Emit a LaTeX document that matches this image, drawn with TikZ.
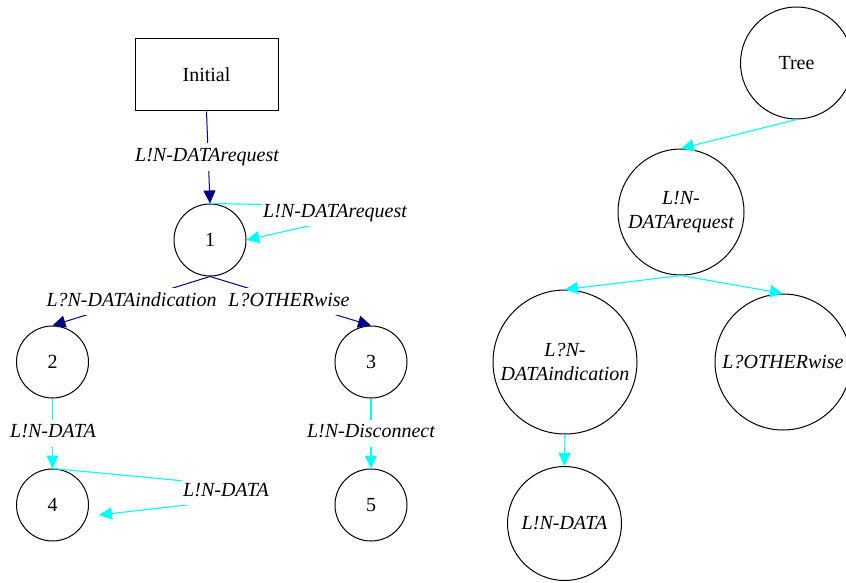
\documentclass[tikz,border=0pt]{standalone}
\usepackage{fontspec}
\setmainfont{Liberation Serif}
\newfontfamily\diagfont{Liberation Serif}
\usetikzlibrary{arrows.meta}
\definecolor{edgenavy}{RGB}{0,0,128}
\definecolor{edgecyan}{RGB}{0,255,255}
\begin{document}
\begin{tikzpicture}[x=1pt,y=-1pt,
  every node/.style={font=\diagfont\fontsize{20}{24.5}\selectfont},
  state/.style={draw=black, line width=1pt, circle, minimum size=72pt, inner sep=0pt},
  tnode/.style={draw=black, line width=1pt, circle, inner sep=0pt, align=center, font=\diagfont\fontsize{20}{24.5}\selectfont\itshape},
  lbl/.style={fill=white, inner xsep=1pt, inner ysep=4pt, text height=14pt, text depth=5pt, font=\diagfont\fontsize{20}{24.5}\selectfont\itshape},
  navyedge/.style={draw=edgenavy, line width=1pt, -{Triangle[length=13pt,width=12pt]}},
  cyanedge/.style={draw=edgecyan, line width=1.1pt, -{Triangle[length=13pt,width=12pt]}},
]
\useasboundingbox (0,0) rectangle (846,583);
\clip (0,0) rectangle (846,583);

% left state machine
\node[draw=black, line width=1pt, minimum width=143pt, minimum height=72pt] (init) at (206.5,75) {Initial};
\node[state] (n1) at (210,240) {1};
\node[state] (n2) at (52.5,362) {2};
\node[state] (n3) at (371,362) {3};
\node[state] (n4) at (52.5,505) {4};
\node[state] (n5) at (371,505) {5};

\draw[navyedge] (init.south) -- (n1.north);
\node[lbl] (l1) at (207,157) {L!N-DATArequest};

\coordinate (s1a) at (265,204.5);
\coordinate (s1b) at (313,225);
\draw[cyanedge] (n1.north) -- (s1a) -- (s1b) -- (n1.east);
\node[lbl] (l2) at (335,212.7) {L!N-DATArequest};

\draw[navyedge] (n1.south) -- (n2.north);
\node[lbl] (l3) at (131.5,301.7) {L?N-DATAindication};
\draw[navyedge] (n1.south) -- (n3.north);
\node[lbl] (l4) at (289,301.7) {L?OTHERwise};

\draw[cyanedge] (n2.south) -- (n4.north);
\node[lbl] (l5) at (53,433.3) {L!N-DATA};
\draw[cyanedge] (n3.south) -- (n5.north);
\node[lbl] (l6) at (371,433) {L!N-Disconnect};

\coordinate (s4a) at (185,481);
\coordinate (s4b) at (195,504);
\draw[cyanedge] (n4.north) -- (s4a) -- (s4b) -- ([xshift=10pt,yshift=-10pt]n4.east);
\node[lbl] (l7) at (226,491.7) {L!N-DATA};

% right tree
\node[tnode, minimum size=112pt] (tree) at (796.5,63) {\upshape Tree};
\node[tnode, minimum size=126pt] (req) at (681,212) {L!N-\\DATArequest};
\node[tnode, minimum size=144pt] (ind) at (565,362) {L?N-\\DATAindication};
\node[tnode, minimum size=136pt] (oth) at (783,362) {L?OTHERwise};
\node[tnode, minimum size=114pt] (dat) at (564.5,523.5) {L!N-DATA};

\draw[cyanedge] (tree.south) -- (req.north);
\draw[cyanedge] (req.south) -- (ind.north);
\draw[cyanedge] (req.south) -- (oth.north);
\draw[cyanedge] (ind.south) -- (dat.north);
\end{tikzpicture}
\end{document}
